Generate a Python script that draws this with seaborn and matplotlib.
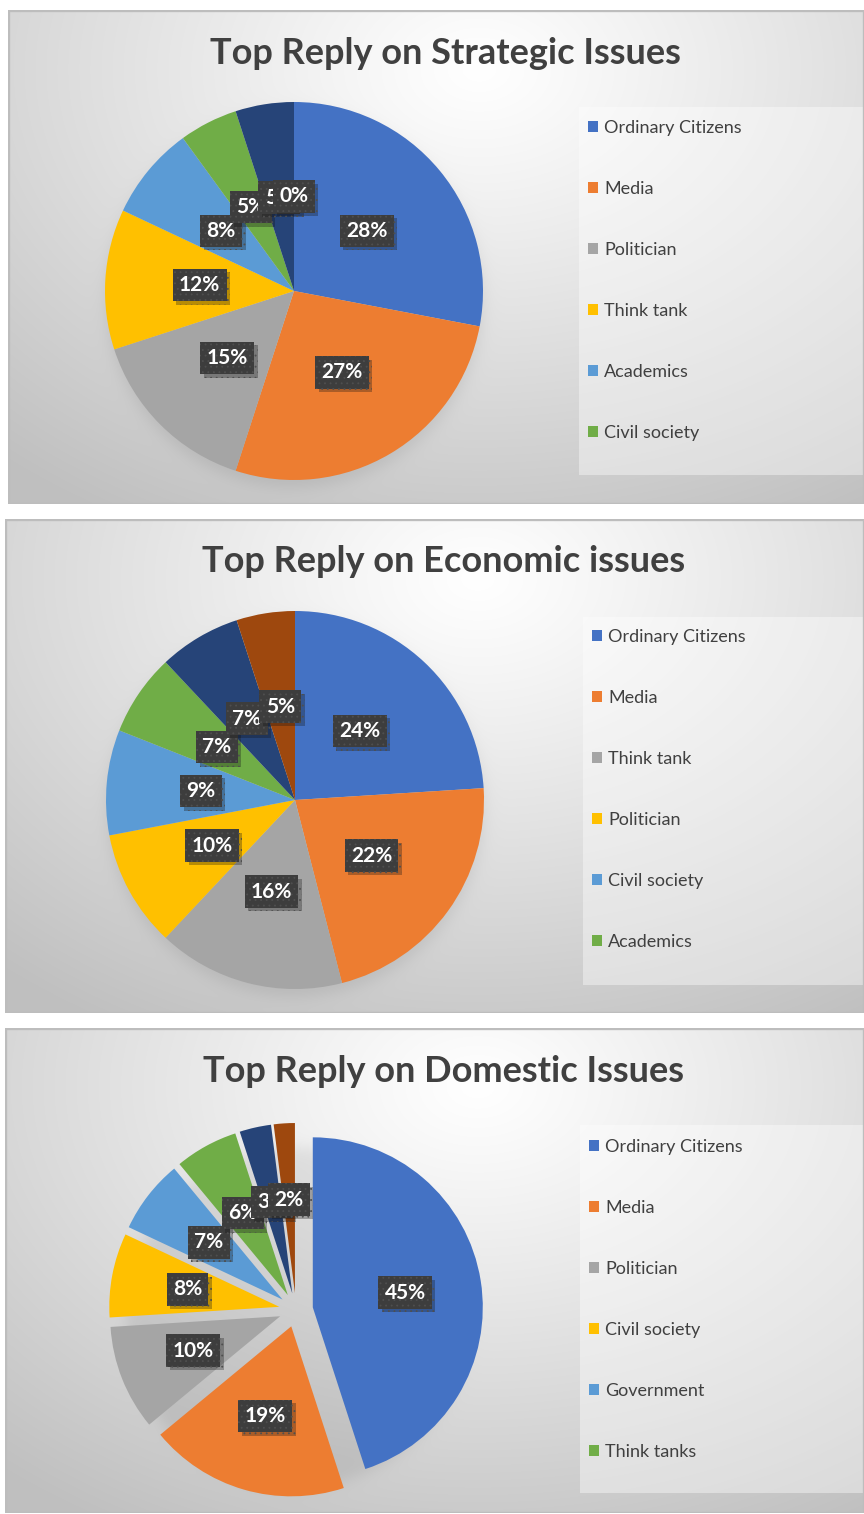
import numpy as np
import matplotlib
matplotlib.use("Agg")
import matplotlib.pyplot as plt
import matplotlib.patheffects as pe
from matplotlib.patches import Rectangle
import seaborn as sns

sns.set_theme(style="white")
plt.rcParams["font.family"] = ["Lato", "DejaVu Sans"]
plt.rcParams["hatch.linewidth"] = 0.6

# ---- data -------------------------------------------------------------
office_colors = ["#4472C4", "#ED7D31", "#A5A5A5", "#FFC000",
                 "#5B9BD5", "#70AD47", "#264478", "#9E480E"]

strategic_title = "Top Reply on Strategic Issues"
strategic_legend = ["Ordinary Citizens", "Media", "Politician", "Think tank",
                    "Academics", "Civil society"]
strategic_values = [28, 27, 15, 12, 8, 5, 5, 0]

economic_title = "Top Reply on Economic issues"
economic_legend = ["Ordinary Citizens", "Media", "Think tank", "Politician",
                   "Civil society", "Academics"]
economic_values = [24, 22, 16, 10, 9, 7, 7, 5]

domestic_title = "Top Reply on Domestic Issues"
domestic_legend = ["Ordinary Citizens", "Media", "Politician", "Civil society",
                   "Government", "Think tanks"]
domestic_values = [45, 19, 10, 8, 7, 6, 3, 2]

# ---- layout (pixels) --------------------------------------------------
W, H = 864, 1514
fig = plt.figure(figsize=(W / 100, H / 100), dpi=100)
fig.patch.set_facecolor("white")
palette = sns.color_palette(office_colors)
TXT = "#404040"


def frac_rect(x0, y0, x1, y1):
    return [x0 / W, 1 - y1 / H, (x1 - x0) / W, (y1 - y0) / H]


def panel_background(box, pie_c, pie_r, legend_box):
    x0, y0, x1, y1 = box
    w, h = x1 - x0, y1 - y0
    bg = fig.add_axes(frac_rect(*box), zorder=-5)
    bg.set_axis_off()
    yy, xx = np.mgrid[0:h, 0:w]
    dx = (xx - 0.55 * w) / (0.85 * w)
    dy = (yy - 0.12 * h) / (1.05 * h)
    d = np.clip(np.sqrt(dx ** 2 + dy ** 2), 0, 1)
    v = 1.0 - 0.25 * d ** 1.1
    # soft drop shadow under the pie
    cx, cy = pie_c[0] - x0, pie_c[1] - y0 + 7
    dd = np.sqrt((xx - cx) ** 2 + (yy - cy) ** 2)
    v -= 0.07 * 0.5 * (1 - np.tanh((dd - pie_r) / 9.0))
    img = np.dstack([v, v, v])
    bg.imshow(img, extent=(0, w, h, 0), aspect="auto", interpolation="bilinear")
    # lighter legend panel
    lx0, ly0, lx1, ly1 = legend_box
    bg.add_patch(Rectangle((lx0 - x0, ly0 - y0), lx1 - lx0, ly1 - ly0,
                           facecolor="white", alpha=0.4, edgecolor="none"))
    bg.add_patch(Rectangle((0, 0), w, h, fill=False, edgecolor="#bdbdbd",
                           linewidth=2.4))
    bg.set_xlim(0, w)
    bg.set_ylim(h, 0)


def draw_panel(box, title, title_y, values, legend_names, pie_c, pie_r,
               explode, pct_dist, legend_box, legend_first_y):
    panel_background(box, pie_c, pie_r, legend_box)
    x0, y0, x1, y1 = box
    fig.text(((x0 + x1) / 2 + 9) / W, 1 - title_y / H, title,
             ha="center", va="center", fontsize=26, fontweight="bold",
             color=TXT)

    s = 1.25
    ax = fig.add_axes(frac_rect(pie_c[0] - pie_r * s, pie_c[1] - pie_r * s,
                                pie_c[0] + pie_r * s, pie_c[1] + pie_r * s))
    wedges, _, autotexts = ax.pie(
        values, colors=palette, startangle=90, counterclock=False,
        explode=explode, autopct=lambda p: f"{p:.0f}%", pctdistance=pct_dist,
        wedgeprops=dict(linewidth=0),
        textprops=dict(color="white", fontsize=15, fontweight="bold"))
    ax.set_xlim(-s, s)
    ax.set_ylim(-s, s)
    for t in autotexts:
        t.set_bbox(dict(boxstyle="square,pad=0.3", facecolor="#3d3d3d",
                        edgecolor="#4f4f4f", linewidth=0, hatch="..."))
        t.get_bbox_patch().set_path_effects(
            [pe.SimplePatchShadow(offset=(2.5, -2.5), alpha=0.3),
             pe.Normal()])

    lx0 = legend_box[0]
    ax.legend(wedges[:6], legend_names, loc="upper left",
              bbox_to_anchor=((lx0 + 9) / W, 1 - (legend_first_y - 12) / H),
              bbox_transform=fig.transFigure, frameon=False,
              fontsize=13, labelcolor=TXT, handlelength=0.55,
              handleheight=0.55, handletextpad=0.35, labelspacing=2.49,
              borderpad=0, borderaxespad=0)


draw_panel((8, 10, 864, 504), strategic_title, 53, strategic_values,
           strategic_legend, (294, 291), 189, None, 0.5,
           (579, 107, 864, 475), 132)
draw_panel((5, 519, 864, 1013), economic_title, 562, economic_values,
           economic_legend, (295, 800), 189, None, 0.5,
           (583, 617, 864, 985), 641)
draw_panel((5, 1028, 864, 1513), domestic_title, 1072, domestic_values,
           domestic_legend, (296, 1310), 170, [0.1] * 8, 0.55,
           (580, 1125, 864, 1493), 1151)

fig.savefig("out.png", dpi=100)
